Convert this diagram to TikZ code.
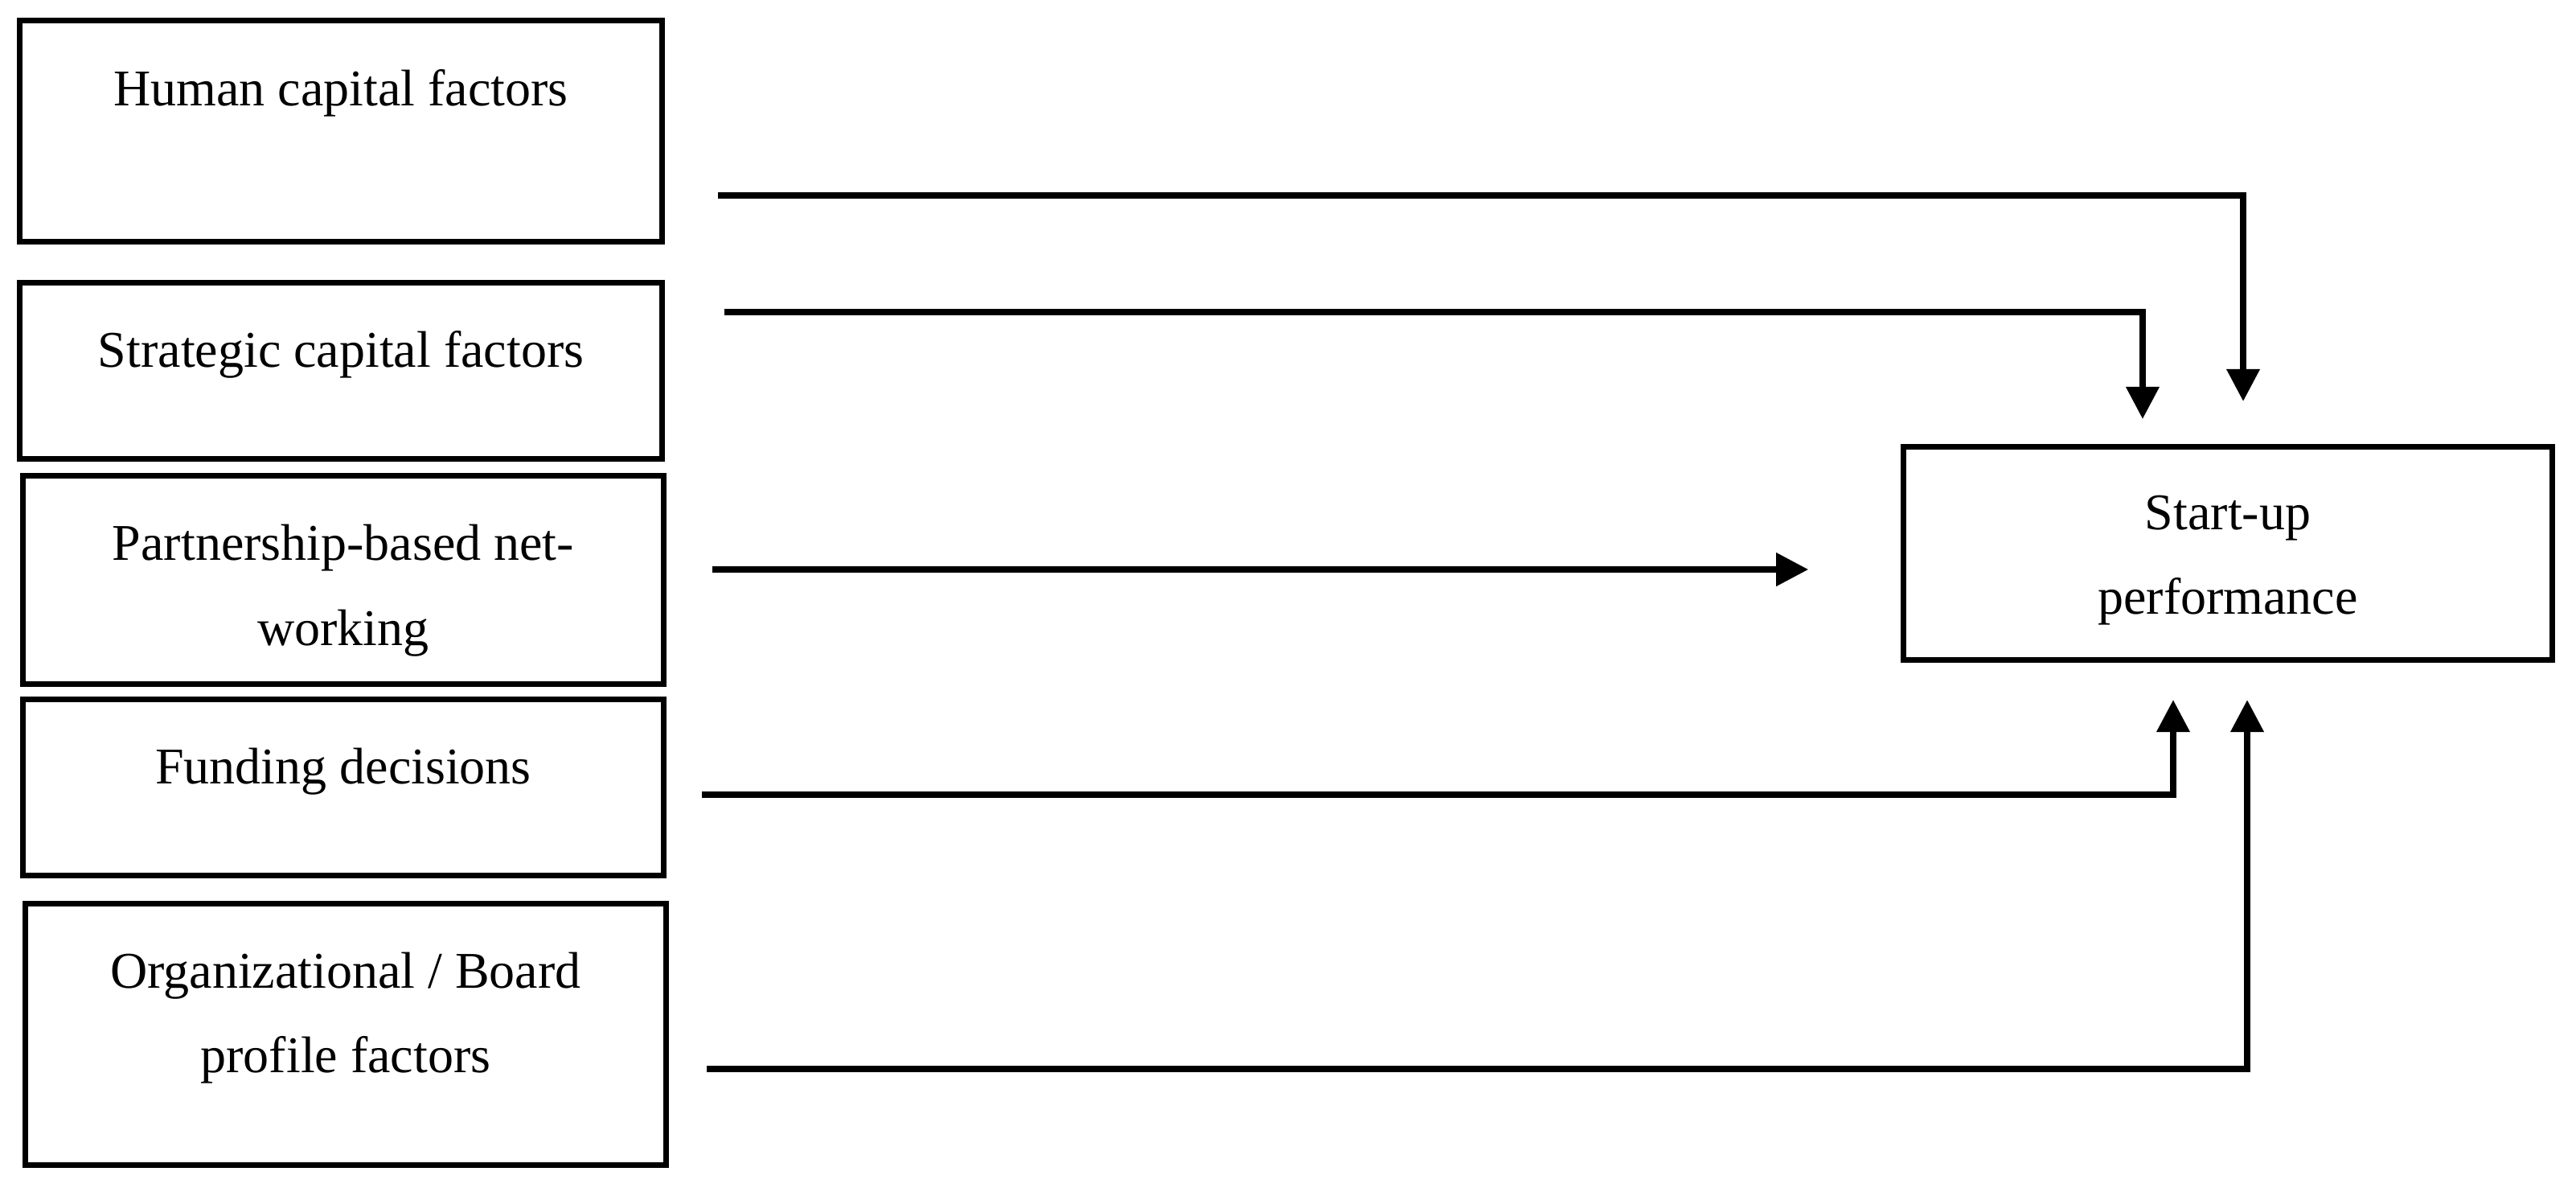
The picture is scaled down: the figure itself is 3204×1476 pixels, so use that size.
\documentclass[tikz,border=0pt]{standalone}
\usepackage{fontspec}
\setmainfont{Liberation Serif}
\usetikzlibrary{arrows.meta,positioning}

\begin{document}
\begin{tikzpicture}[x=0.01cm, y=-0.01cm,
  box/.style={rectangle, draw, line width=2pt, inner sep=0pt},
  txt/.style={align=center, inner sep=0pt, font=\fontsize{18.2}{30}\selectfont},
  link/.style={-{Triangle[width=0.4cm,length=0.4cm]}, line width=2.1pt}]
\useasboundingbox (0,0) rectangle (3204,1476);
\node [box, minimum width=7.98cm, minimum height=2.74cm] (hc) at (424,163) {};
\node [box, minimum width=7.98cm, minimum height=2.19cm] (sc) at (424,461) {};
\node [box, minimum width=7.97cm, minimum height=2.58cm] (pn) at (427,721) {};
\node [box, minimum width=7.97cm, minimum height=2.18cm] (fd) at (427,979) {};
\node [box, minimum width=7.97cm, minimum height=3.25cm] (ob) at (430,1286) {};
\node [box, minimum width=8.06cm, minimum height=2.65cm] (perf) at (2771,688) {};
\node [txt, below=0.63cm of hc.north] {Human capital factors};
\node [txt, below=0.63cm of sc.north] {Strategic capital factors};
\node [txt, below=0.63cm of pn.north] {Partnership-based net-\\working};
\node [txt, below=0.63cm of fd.north] {Funding decisions};
\node [txt, below=0.63cm of ob.north] {Organizational / Board\\profile factors};
\node [txt, below=0.63cm of perf.north] {Start-up\\performance};
\coordinate (hc out) at (893,243);
\coordinate (sc out) at (901,388);
\coordinate (pn out) at (886,708);
\coordinate (fd out) at (873,988);
\coordinate (ob out) at (879,1329);
\draw [link, shorten >=0.53cm] (hc out) -| ([xshift=0.19cm]perf.north);
\draw [link, shorten >=0.31cm] (sc out) -| ([xshift=-1.06cm]perf.north);
\draw [link, shorten >=1.15cm] (pn out) -- (pn out -| perf.west);
\draw [link, shorten >=0.46cm] (fd out) -| ([xshift=-0.68cm]perf.south);
\draw [link, shorten >=0.46cm] (ob out) -| ([xshift=0.24cm]perf.south);
\end{tikzpicture}
\end{document}
